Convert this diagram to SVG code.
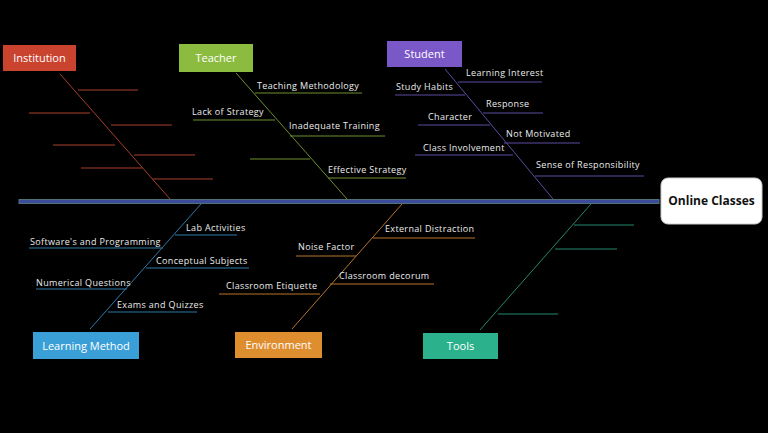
<svg xmlns="http://www.w3.org/2000/svg" width="768" height="433" viewBox="0 0 768 433">
<style>
.t{font-family:"Open Sans","Liberation Sans",sans-serif;font-size:9px;fill:#ececec;letter-spacing:0.35px}
.bl{font-family:"Open Sans","Liberation Sans",sans-serif;font-size:11px;fill:#ffffff;text-anchor:middle}
.inst{stroke:#a8402c;stroke-width:1}
.tea{stroke:#6e8f2e;stroke-width:1}
.stu{stroke:#5c4aa0;stroke-width:1}
.lm{stroke:#2e7aa8;stroke-width:1}
.env{stroke:#b5742a;stroke-width:1}
.tool{stroke:#23876c;stroke-width:1}
</style>
<rect width="768" height="433" fill="#000000"/>
<g id="connectors" fill="none">
<rect x="19" y="199.5" width="640" height="4" fill="#3c4c9a" stroke="#4e7078" stroke-width="1"/>
<g class="inst">
<line x1="60" y1="74" x2="170" y2="199"/>
<line x1="78" y1="90" x2="138" y2="90"/>
<line x1="29" y1="113" x2="90" y2="113"/>
<line x1="111" y1="125" x2="172" y2="125"/>
<line x1="53" y1="145" x2="115" y2="145"/>
<line x1="134" y1="155" x2="195" y2="155"/>
<line x1="81" y1="168" x2="142" y2="168"/>
<line x1="153" y1="179" x2="213" y2="179"/>
</g>
<g class="tea">
<line x1="236" y1="73" x2="347" y2="199"/>
<line x1="255" y1="93" x2="362" y2="93"/>
<line x1="193" y1="120" x2="275" y2="120"/>
<line x1="290" y1="136" x2="385" y2="136"/>
<line x1="250" y1="159" x2="310" y2="159"/>
<line x1="328" y1="178" x2="406" y2="178"/>
</g>
<g class="stu">
<line x1="445" y1="69" x2="553" y2="199"/>
<line x1="458" y1="82" x2="542" y2="82"/>
<line x1="395" y1="95" x2="465" y2="95"/>
<line x1="483" y1="113" x2="543" y2="113"/>
<line x1="418" y1="125" x2="490" y2="125"/>
<line x1="504" y1="143" x2="580" y2="143"/>
<line x1="415" y1="155" x2="513" y2="155"/>
<line x1="535" y1="176" x2="644" y2="176"/>
</g>
<g class="lm">
<line x1="90" y1="329" x2="201" y2="204"/>
<line x1="175" y1="235" x2="237" y2="235"/>
<line x1="29" y1="248" x2="163" y2="248"/>
<line x1="146" y1="268" x2="249" y2="268"/>
<line x1="36" y1="289" x2="127" y2="289"/>
<line x1="108" y1="312" x2="197" y2="312"/>
</g>
<g class="env">
<line x1="292" y1="329" x2="402" y2="204"/>
<line x1="373" y1="238" x2="475" y2="238"/>
<line x1="296" y1="256" x2="356" y2="256"/>
<line x1="330" y1="284" x2="434" y2="284"/>
<line x1="219" y1="294" x2="320" y2="294"/>
</g>
<g class="tool">
<line x1="480" y1="330" x2="591" y2="204"/>
<line x1="574" y1="225" x2="634" y2="225"/>
<line x1="555" y1="249" x2="617" y2="249"/>
<line x1="498" y1="314" x2="558" y2="314"/>
</g>
</g>
<g id="institution"><rect x="3" y="45" width="73" height="26" fill="#c9432f"/><text class="bl" x="39.5" y="62">Institution</text></g>
<g id="teacher"><rect x="179" y="44" width="74" height="28" fill="#8cbc3f"/><text class="bl" x="216" y="62">Teacher</text></g>
<g id="student"><rect x="387" y="41" width="75" height="26" fill="#7b58c8"/><text class="bl" x="424.5" y="58">Student</text></g>
<g id="learning-method"><rect x="33" y="332" width="106" height="27" fill="#3a9fd6"/><text class="bl" x="86" y="349.5">Learning Method</text></g>
<g id="environment"><rect x="235" y="332" width="87" height="26" fill="#df8e2f"/><text class="bl" x="278.5" y="349">Environment</text></g>
<g id="tools"><rect x="423" y="333" width="75" height="26" fill="#2bb18b"/><text class="bl" x="460.5" y="350">Tools</text></g>
<g id="online-classes"><rect x="661" y="178" width="101" height="46" rx="7" fill="#ffffff" stroke="#cccccc" stroke-width="1"/><text x="711.5" y="205" text-anchor="middle" font-family="'Open Sans','Liberation Sans',sans-serif" font-size="12" font-weight="bold" fill="#111111">Online Classes</text></g>
<g id="labels">
<text class="t" x="257" y="89">Teaching Methodology</text>
<text class="t" x="192" y="115">Lack of Strategy</text>
<text class="t" x="289" y="129">Inadequate Training</text>
<text class="t" x="328" y="173">Effective Strategy</text>
<text class="t" x="466" y="76">Learning Interest</text>
<text class="t" x="396" y="90">Study Habits</text>
<text class="t" x="486" y="107">Response</text>
<text class="t" x="428" y="120">Character</text>
<text class="t" x="506" y="137">Not Motivated</text>
<text class="t" x="423" y="151">Class Involvement</text>
<text class="t" x="536" y="168">Sense of Responsibility</text>
<text class="t" x="186" y="231">Lab Activities</text>
<text class="t" x="30" y="245">Software's and Programming</text>
<text class="t" x="156" y="264">Conceptual Subjects</text>
<text class="t" x="36" y="286">Numerical Questions</text>
<text class="t" x="117" y="308">Exams and Quizzes</text>
<text class="t" x="385" y="232">External Distraction</text>
<text class="t" x="298" y="250">Noise Factor</text>
<text class="t" x="339" y="279">Classroom decorum</text>
<text class="t" x="226" y="289">Classroom Etiquette</text>
</g>
</svg>
